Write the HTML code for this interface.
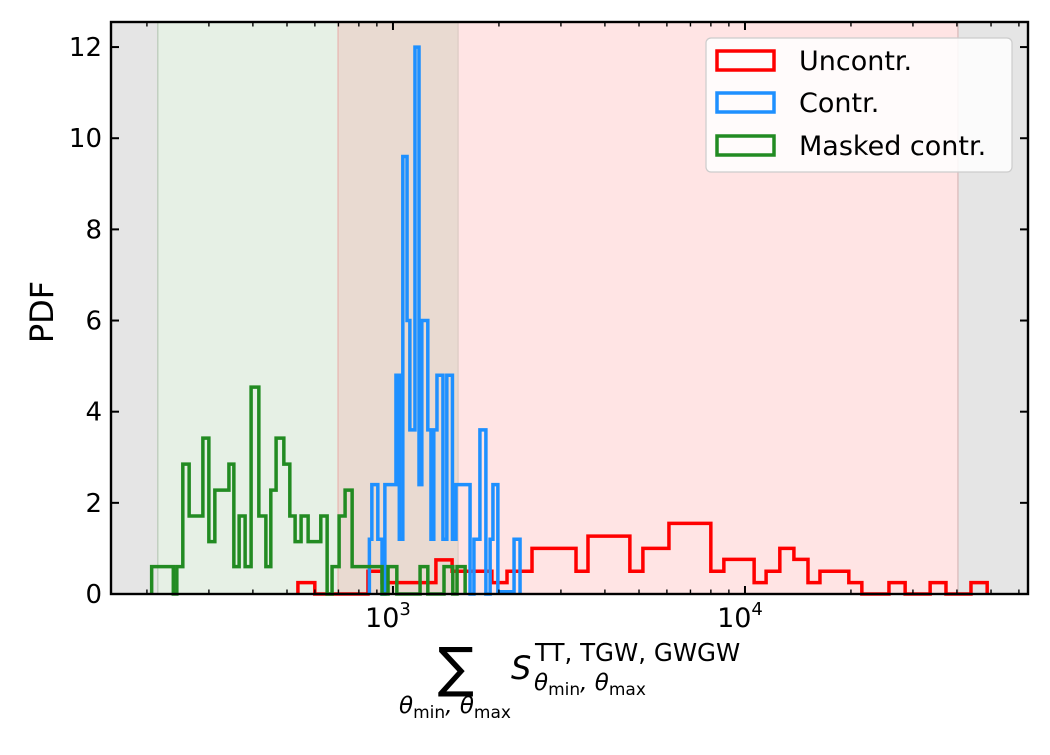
<!DOCTYPE html>
<html><head><meta charset="utf-8"><style>
body{margin:0;background:#fff}
svg text{font-family:"DejaVu Sans","Liberation Sans",sans-serif;fill:#000}
</style></head><body>
<svg id="chart" width="1050" height="750" viewBox="0 0 1050 750" xmlns="http://www.w3.org/2000/svg">
<g id="bands"></g>
<g id="series"></g>
<g id="axes"></g>
<g>
<text x="456" y="686" font-size="54" text-anchor="middle">∑</text>
<text x="455" y="713" font-size="23" text-anchor="middle" font-style="italic">θ<tspan font-size="17" font-style="normal" dy="5">min</tspan><tspan dy="-5">, </tspan><tspan>θ</tspan><tspan font-size="17" font-style="normal" dy="5">max</tspan></text>
<text x="511" y="679" font-size="32" font-style="italic">S</text>
<text x="535" y="661" font-size="24.5">TT, TGW, GWGW</text>
<text x="534" y="690" font-size="23" font-style="italic">θ<tspan font-size="17" font-style="normal" dy="5">min</tspan><tspan dy="-5">, </tspan><tspan>θ</tspan><tspan font-size="17" font-style="normal" dy="5">max</tspan></text>
</g>
<text x="53" y="312" font-size="32" text-anchor="middle" transform="rotate(-90 53 312)">PDF</text>
<g>
<rect x="706" y="38" width="306" height="134" rx="5" fill="#fff" fill-opacity="0.85" stroke="#ccc" stroke-width="1.2"/>
<g><rect x="717" y="51" width="57" height="19" fill="none" stroke="#ff0000" stroke-width="3.5"/><text x="799" y="70" font-size="27">Uncontr.</text></g>
<g><rect x="717" y="93" width="57" height="19" fill="none" stroke="#1e90ff" stroke-width="3.5"/><text x="799" y="112" font-size="27">Contr.</text></g>
<g><rect x="717" y="136" width="57" height="19" fill="none" stroke="#228b22" stroke-width="3.5"/><text x="799" y="155" font-size="27">Masked contr.</text></g>
</g>
</svg>
<script>
// histogram data: bin edges in log10(S), PDF heights
const redEdges=[2.730,2.778,2.929,2.969,3.122,3.168,3.281,3.324,3.395,3.520,3.554,3.673,3.710,3.784,3.903,3.940,4.026,4.060,4.099,4.139,4.179,4.213,4.295,4.332,4.409,4.455,4.526,4.571,4.642,4.688];
const redValues=[0.25,0,0.5,0.25,0.75,0.5,0.25,0.5,1.0,0.5,1.27,0.5,1.0,1.55,0.5,0.76,0.25,0.5,1.0,0.76,0.25,0.5,0.25,0,0.25,0,0.25,0,0.25];
const blueEdges=[2.933,2.940,2.957,2.969,2.977,3.0085,3.018,3.028,3.040,3.048,3.0625,3.074,3.082,3.099,3.108,3.116,3.125,3.142,3.153,3.169,3.179,3.219,3.230,3.247,3.264,3.276,3.284,3.298,3.344,3.361];
const blueValues=[1.2,2.4,1.2,0,2.4,4.8,1.2,9.6,6.0,3.6,12,2.4,6.0,3.6,1.2,3.6,4.8,1.2,4.8,1.2,2.4,0,1.2,3.6,0,1.2,2.4,0.05,1.2];
const greenEdges=[2.3145,2.376,2.386,2.403,2.421,2.460,2.477,2.494,2.534,2.548,2.563,2.580,2.597,2.619,2.639,2.653,2.668,2.690,2.707,2.722,2.739,2.759,2.795,2.813,2.827,2.847,2.864,2.884,2.969,2.986,3.011,3.077,3.099,3.145,3.170,3.182,3.205];
const greenValues=[0.6,0,0.6,2.85,1.71,3.42,1.15,2.28,2.85,0.6,1.71,0.6,4.54,1.71,0.6,2.28,3.42,2.85,1.71,1.15,1.71,1.15,1.71,0,0.6,1.71,2.28,0.6,0,0.6,0,0.6,0,0.6,0,0.6];
const yTicks=[0,2,4,6,8,10,12];
const xMajor=[3,4];
const xMajorLabels=["3","4"];
const bandGrayLeft=[2.199,2.332];
const bandGreen=[2.332,2.844];
const bandBrown=[2.844,3.185];
const bandPink=[3.185,4.605];
const bandGrayRight=[4.605,4.804];

const L=111,R=1028,T=22,B=594;
const xmin=2.199,xmax=4.804,ymin=0,ymax=12.55;
const X=v=>L+(v-xmin)/(xmax-xmin)*(R-L);
const Y=v=>B-(v-ymin)/(ymax-ymin)*(B-T);
const NS="http://www.w3.org/2000/svg";
function mk(tag,attrs,parent){const e=document.createElementNS(NS,tag);for(const k in attrs)e.setAttribute(k,attrs[k]);parent.appendChild(e);return e;}

const bands=document.getElementById('bands');
[[bandGrayLeft,'#e5e5e5','band-gray-left'],[bandGreen,'#e6f0e5','band-green'],[bandBrown,'#e9dad1','band-overlap'],[bandPink,'#ffe4e4','band-pink'],[bandGrayRight,'#e5e5e5','band-gray-right']].forEach(b=>{
 const r=mk('rect',{x:X(b[0][0]),y:T,width:X(b[0][1])-X(b[0][0]),height:B-T,fill:b[1]},bands);
 
 
});
[[bandGreen[0],'#b9c9b7'],[bandGreen[1],'#e8b4b0'],[bandBrown[1],'#dccbc4'],[bandPink[1],'#d9b8b8']].forEach(s=>{
 const l=mk('line',{x1:X(s[0]),x2:X(s[0]),y1:T,y2:B,stroke:s[1],'stroke-width':1.2},bands);
 
 
});

const series=document.getElementById('series');
function step(edges,vals,color,name){
 let d='M'+X(edges[0])+','+Y(0);
 for(let i=0;i<vals.length;i++){d+=' L'+X(edges[i])+','+Y(vals[i])+' L'+X(edges[i+1])+','+Y(vals[i]);}
 d+=' L'+X(edges[edges.length-1])+','+Y(0);
 const p=mk('path',{d:d,fill:'none',stroke:color,'stroke-width':3.5,'stroke-linejoin':'miter'},series);
 
 
}
step(redEdges,redValues,'#ff0000','series-uncontr');
step(blueEdges,blueValues,'#1e90ff','series-contr');
step(greenEdges,greenValues,'#228b22','series-masked-contr');

const axes=document.getElementById('axes');
const frame=mk('rect',{x:L,y:T,width:R-L,height:B-T,fill:'none',stroke:'#000','stroke-width':2.4},axes);


yTicks.forEach(v=>{
 const y=Y(v);
 mk('line',{x1:L,x2:L+8,y1:y,y2:y,stroke:'#000','stroke-width':2},axes);
 mk('line',{x1:R,x2:R-8,y1:y,y2:y,stroke:'#000','stroke-width':2},axes);
 const t=mk('text',{x:L-9,y:y+9,'font-size':26,'text-anchor':'end'},axes);
 t.textContent=v;
 
 
});
for(let dec=2;dec<=4;dec++){for(let m=1;m<10;m++){
 const v=dec+Math.log10(m); if(v<xmin||v>xmax)continue;
 const len=m===1?8:4.5, x=X(v);
 mk('line',{x1:x,x2:x,y1:B,y2:B-len,stroke:'#000','stroke-width':m===1?2:1.4},axes);
 mk('line',{x1:x,x2:x,y1:T,y2:T+len,stroke:'#000','stroke-width':m===1?2:1.4},axes);
}}
xMajor.forEach((v,i)=>{
 const t=mk('text',{x:X(v)-5,y:627,'font-size':27,'text-anchor':'middle'},axes);
 t.textContent='10';
 const s=mk('tspan',{'font-size':18,dy:-12},t);
 s.textContent=xMajorLabels[i];
 
 
});
</script>
</body></html>
